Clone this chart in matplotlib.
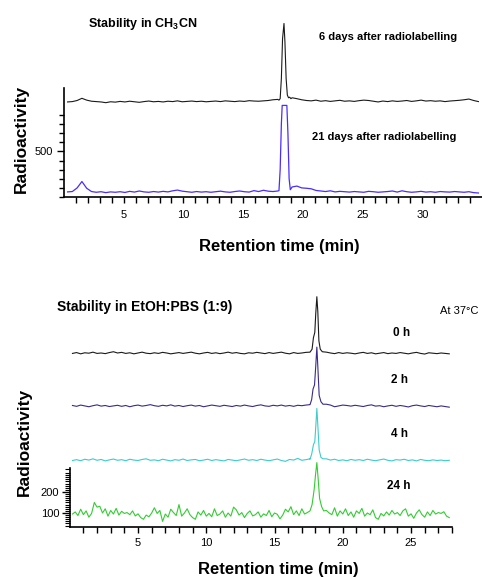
import numpy as np
import matplotlib
matplotlib.use('Agg')
import matplotlib.pyplot as plt
from matplotlib.ticker import FixedLocator, NullFormatter

plt.rcParams['font.family'] = ['Liberation Sans', 'DejaVu Sans']
plt.rcParams['mathtext.fontset'] = 'custom'
plt.rcParams['mathtext.rm'] = 'Liberation Sans'
plt.rcParams['mathtext.bf'] = 'Liberation Sans:bold'

#---------------------- DATA
# top panel: stability in CH3CN, baseline sampled every 0.4 min from 0.3 min
top_t0 = 0.3; top_dt = 0.4
y_6d = [772, 774, 780, 792, 782, 776, 774, 772, 768, 773,
        771, 775, 772, 776, 773, 770, 774, 777, 773, 775,
        772, 776, 774, 778, 773, 775, 777, 774, 776, 773,
        775, 777, 774, 778, 776, 774, 777, 775, 779, 777,
        776, 778, 780, 784, 786, 790, 800, 795, 790, 784,
        780, 778, 782, 776, 779, 775, 778, 781, 776, 778,
        775, 779, 782, 780, 776, 772, 777, 774, 778, 775,
        777, 780, 775, 778, 782, 777, 779, 776, 778, 774,
        777, 779, 781, 784, 788, 780, 774]
pk_6d_t = [18.0, 18.1, 18.2, 18.3, 18.42, 18.5, 18.6, 18.7, 18.8, 18.9, 19.0]
pk_6d_y = [782, 790, 900, 1120, 1203, 1100, 900, 810, 795, 798, 790]

y_21d = [278, 280, 300, 335, 298, 280, 276, 279, 274, 278,
         276, 279, 275, 281, 277, 283, 278, 276, 280, 277,
         281, 278, 284, 288, 282, 279, 276, 280, 277, 279,
         276, 279, 282, 278, 276, 280, 283, 279, 277, 285,
         280, 287, 282, 280, 283, 284, 290, 305, 310, 300,
         298, 295, 286, 283, 280, 284, 278, 281, 279, 277,
         280, 278, 276, 281, 279, 276, 278, 280, 283, 277,
         284, 279, 276, 278, 281, 277, 279, 276, 280, 278,
         277, 280, 278, 276, 279, 274, 272]
pk_21d_t = [18.0, 18.1, 18.2, 18.27, 18.66, 18.75, 18.85, 18.95, 19.05]
pk_21d_y = [285, 400, 650, 753, 753, 600, 350, 290, 300]

# bottom panel: stability in EtOH:PBS (1:9) at 37 C, sampled every 0.3 min from 0.2 min
bot_t0 = 0.2; bot_dt = 0.3
y_0h = [860, 864, 858, 863, 861, 866, 860, 862, 859, 864,
        868, 862, 865, 860, 863, 858, 862, 866, 861, 859,
        863, 860, 865, 862, 858, 861, 864, 860, 863, 866,
        861, 858, 862, 865, 860, 863, 859, 862, 866, 861,
        864, 860, 858, 863, 861, 865, 862, 859, 864, 860,
        863, 866, 861, 858, 864, 860, 862, 865, 866, 870,
        880, 870, 866, 862, 859, 864, 860, 863, 861, 858,
        862, 865, 860, 863, 858, 861, 864, 859, 862, 860,
        864, 861, 858, 862, 865, 860, 857, 863, 861, 859,
        862, 860, 858]
pk_0h_t = [17.6, 17.75, 17.85, 17.95, 18.02, 18.1, 18.17, 18.25, 18.35, 18.5]
pk_0h_y = [866, 880, 935, 960, 1050, 1130, 1060, 920, 880, 868]

y_2h = [612, 608, 614, 610, 606, 611, 615, 609, 612, 607,
        610, 613, 608, 612, 606, 611, 614, 609, 612, 616,
        611, 608, 613, 610, 615, 609, 612, 607, 611, 614,
        609, 612, 606, 610, 614, 611, 608, 613, 610, 607,
        612, 609, 614, 610, 607, 612, 615, 610, 608, 613,
        610, 614, 609, 612, 608, 613, 611, 614, 616, 622,
        630, 622, 618, 614, 606, 610, 614, 612, 609, 613,
        610, 607, 612, 615, 609, 611, 606, 610, 613, 608,
        612, 609, 605, 611, 614, 610, 607, 612, 609, 606,
        610, 607, 604]
pk_2h_t = [17.6, 17.72, 17.82, 17.93, 18.02, 18.1, 18.17, 18.27, 18.4, 18.55]
pk_2h_y = [616, 640, 690, 710, 800, 890, 800, 660, 630, 618]

y_4h = [350, 354, 349, 356, 352, 358, 351, 355, 348, 353,
        357, 351, 354, 349, 356, 352, 350, 355, 358, 351,
        353, 349, 356, 352, 348, 354, 351, 357, 350, 353,
        355, 349, 352, 356, 350, 354, 351, 348, 355, 352,
        349, 353, 357, 351, 354, 350, 356, 352, 349, 353,
        357, 350, 346, 355, 352, 360, 351, 354, 358, 362,
        370, 364, 358, 352, 356, 350, 353, 349, 355, 351,
        354, 350, 356, 352, 349, 353, 357, 351, 348, 354,
        352, 356, 350, 353, 348, 355, 351, 349, 353, 350,
        352, 349, 351]
pk_4h_t = [17.6, 17.72, 17.85, 17.95, 18.03, 18.1, 18.17, 18.27, 18.4, 18.55]
pk_4h_y = [356, 380, 425, 440, 520, 598, 520, 400, 365, 358]

# 24 h trace is noisier, sampled every 0.2 min
g_t0 = 0.2; g_dt = 0.2
y_24h = [95, 105, 88, 118, 92, 110, 80, 98, 150, 128,
         132, 100, 120, 85, 112, 95, 122, 90, 108, 98,
         102, 92, 110, 86, 96, 78, 70, 90, 82, 100,
         125, 98, 112, 60, 95, 80, 118, 102, 88, 140,
         85, 100, 120, 92, 78, 70, 105, 90, 112, 85,
         98, 82, 120, 88, 95, 110, 80, 100, 85, 128,
         115, 90, 102, 78, 98, 110, 86, 92, 105, 80,
         96, 88, 112, 82, 100, 94, 72, 90, 118, 105,
         130, 92, 110, 88, 120, 95, 102, 104, 115, 130,
         250, 170, 125, 112, 100, 92, 125, 85, 110, 95,
         120, 88, 105, 80, 110, 98, 122, 85, 100, 92,
         115, 78, 70, 98, 86, 105, 90, 112, 95, 102,
         88, 110, 120, 85, 96, 75, 100, 115, 92, 80,
         105, 88, 112, 95, 102, 98, 106, 85, 78]
pk_24h_t = [17.6, 17.75, 17.9, 18.0, 18.1, 18.2, 18.3, 18.45, 18.6]
pk_24h_y = [110, 140, 210, 280, 340, 260, 170, 130, 110]


def trace(t0, dt, base, pk_t, pk_y):
    # baseline grid with the peak points put in place of the grid inside the peak window
    t = t0 + dt*np.arange(len(base))
    base = np.array(base, dtype=float)
    keep = (t < pk_t[0]) | (t > pk_t[-1])
    tt = np.concatenate([t[keep], pk_t])
    yy = np.concatenate([base[keep], pk_y])
    o = np.argsort(tt)
    return tt[o], yy[o]


W = 482.; H = 578.
def fx(px): return px/W
def fy(py): return 1 - py/H

fig = plt.figure(figsize=(4.82, 5.78), dpi=100)

#---------------------- TOP PANEL
ax1 = fig.add_axes([fx(64), fy(197), 1 - fx(64), (197 - 10)/H])
t, y = trace(top_t0, top_dt, y_6d, pk_6d_t, pk_6d_y)
ax1.plot(t, y, color='#1a1a1a', lw=0.8)
t, y = trace(top_t0, top_dt, y_21d, pk_21d_t, pk_21d_y)
ax1.plot(t, y, color='#4a2cff', lw=0.9)

ax1.set_xlim(0, 35)
ax1.set_ylim(250, 1277)
ax1.spines['top'].set_visible(False); ax1.spines['right'].set_visible(False)
ax1.spines['left'].set_bounds(250, 849)
ax1.spines['left'].set_linewidth(1.2); ax1.spines['bottom'].set_linewidth(1.2)
ax1.set_xticks([5, 10, 15, 20, 25, 30])
ax1.xaxis.set_minor_locator(FixedLocator([k for k in range(1, 35) if k % 5]))
ax1.set_yticks([500])
ax1.yaxis.set_minor_locator(FixedLocator([250, 300, 350, 400, 450, 550, 600, 650, 700]))
ax1.tick_params(axis='x', which='both', length=4, width=1, labelsize=8, pad=5)
ax1.tick_params(axis='y', which='major', length=5, width=1, labelsize=8, pad=3)
ax1.tick_params(axis='y', which='minor', length=3.5, width=1)

fig.text(fx(88), fy(27), r'Stability in CH$_\mathbf{3}$CN', fontsize=9, fontweight='bold')
fig.text(fx(319), fy(40), '6 days after radiolabelling', fontsize=8, fontweight='bold')
fig.text(fx(312), fy(140), '21 days after radiolabelling', fontsize=8, fontweight='bold')
fig.text(fx(21), fy(139), 'Radioactivity', fontsize=12.5, fontweight='bold',
         rotation=90, ha='center', va='center')
fig.text(fx(279), fy(251), 'Retention time (min)', fontsize=12, fontweight='bold', ha='center')

#---------------------- BOTTOM PANEL
ax2 = fig.add_axes([fx(69.75), fy(527), (452 - 69.75)/W, (527 - 290)/H])
t, y = trace(bot_t0, bot_dt, y_0h, pk_0h_t, pk_0h_y)
ax2.plot(t, y, color='#1a1a1a', lw=0.8)
t, y = trace(bot_t0, bot_dt, y_2h, pk_2h_t, pk_2h_y)
ax2.plot(t, y, color='#3a2a8a', lw=0.8)
t, y = trace(bot_t0, bot_dt, y_4h, pk_4h_t, pk_4h_y)
ax2.plot(t, y, color='#3ccccc', lw=0.8)
t, y = trace(g_t0, g_dt, y_24h, pk_24h_t, pk_24h_y)
ax2.plot(t, y, color='#33cc33', lw=0.8)

ax2.set_xlim(0, 28)
ax2.set_ylim(33.3, 1162)
ax2.spines['top'].set_visible(False); ax2.spines['right'].set_visible(False)
ax2.spines['left'].set_bounds(33.3, 314)
ax2.spines['left'].set_linewidth(1.2); ax2.spines['bottom'].set_linewidth(1.2)
ax2.set_xticks([5, 10, 15, 20, 25])
ax2.xaxis.set_minor_locator(FixedLocator([k for k in range(1, 29) if k % 5]))
ax2.set_yticks([100, 200])
ax2.yaxis.set_minor_locator(FixedLocator([v for v in range(40, 320, 10) if v % 100]))
ax2.tick_params(axis='x', which='both', length=4, width=1, labelsize=8, pad=4)
ax2.tick_params(axis='y', which='major', length=6, width=1, labelsize=8, pad=1.5)
ax2.tick_params(axis='y', which='minor', length=3.5, width=0.8)

fig.text(fx(57), fy(311), 'Stability in EtOH:PBS (1:9)', fontsize=10, fontweight='bold')
fig.text(fx(440), fy(314), 'At 37\u00b0C', fontsize=8)
fig.text(fx(393), fy(336), '0 h', fontsize=8.5, fontweight='bold')
fig.text(fx(391), fy(383), '2 h', fontsize=8.5, fontweight='bold')
fig.text(fx(391), fy(437), '4 h', fontsize=8.5, fontweight='bold')
fig.text(fx(387), fy(489), '24 h', fontsize=8.5, fontweight='bold')
fig.text(fx(24), fy(442), 'Radioactivity', fontsize=12.5, fontweight='bold',
         rotation=90, ha='center', va='center')
fig.text(fx(278), fy(574), 'Retention time (min)', fontsize=12, fontweight='bold', ha='center')

plt.savefig('out.png', dpi=100)
